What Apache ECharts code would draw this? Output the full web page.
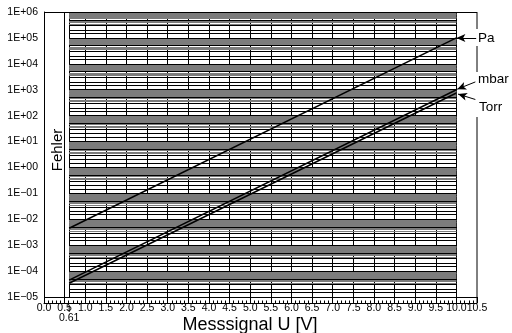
<!DOCTYPE html>
<html>
<head>
<meta charset="utf-8">
<script src="https://cdn.jsdelivr.net/npm/echarts@6/dist/echarts.min.js"></script>
<style>
  html, body { margin: 0; padding: 0; background: #fff; }
  #main { width: 512px; height: 333px; }
</style>
</head>
<body>
<div id="main"></div>
<script>
// Messsignal -> Druck, Endpunkte der Kennlinien
const signalU = [0.61, 10.0];
const paValues = [4.5e-3, 1e5];
const mbarValues = [4.5e-5, 1e3];
const torrValues = [3.4e-5, 7.5e2];

// Raster
const gridVolts = [0.5, 0.61, 1.0, 1.5, 2.0, 2.5, 3.0, 3.5, 4.0, 4.5, 5.0, 5.5,
  6.0, 6.5, 7.0, 7.5, 8.0, 8.5, 9.0, 9.5, 10.0];
const decades = [-5, -4, -3, -2, -1, 0, 1, 2, 3, 4, 5];
const blackMult = [1, 1.5, 2, 3, 5];
const greyMult = [3.5, 4, 4.5, 5.5, 6, 6.5, 7, 7.5, 8, 8.5, 9, 9.5];

const FONT = 'Liberation Sans, Arial, sans-serif';

function expLabel(v) {
  const e = Math.round(Math.log10(v));
  return '1E' + (e < 0 ? '\u2212' : '+') + String(Math.abs(e)).padStart(2, '0');
}

const gridLines = [];
gridVolts.forEach(u => {
  gridLines.push([{ coord: [u, 1e-5] }, { coord: [u, 1e6] }]);
});
decades.forEach(d => {
  greyMult.forEach(k => {
    const v = k * Math.pow(10, d);
    gridLines.push([{ coord: [0.61, v], lineStyle: { color: '#7c7c7c' } },
                    { coord: [10, v] }]);
  });
  blackMult.forEach(k => {
    const v = k * Math.pow(10, d);
    gridLines.push([{ coord: [0.61, v] }, { coord: [10, v] }]);
  });
});

const chart = echarts.init(document.getElementById('main'));

const option = {
  animation: false,
  grid: { left: 44, right: 35, top: 12, bottom: 36 },
  xAxis: {
    type: 'value',
    min: 0,
    max: 10.5,
    interval: 0.5,
    offset: 6,
    axisLine: { lineStyle: { color: '#000', width: 1 } },
    axisTick: { inside: true, length: 6, lineStyle: { color: '#000' } },
    minorTick: { show: true, splitNumber: 5, length: 2.5, lineStyle: { color: '#000' } },
    axisLabel: {
      color: '#000', fontSize: 10.5, fontFamily: FONT, margin: 0,
      formatter: v => v.toFixed(1)
    },
    splitLine: { show: false }
  },
  yAxis: {
    type: 'log',
    min: 1e-5,
    max: 1e6,
    interval: 1,
    axisLine: { show: true, lineStyle: { color: '#000', width: 1 } },
    axisTick: { show: false },
    axisLabel: { color: '#000', fontSize: 10.5, fontFamily: FONT, margin: 6, formatter: expLabel },
    splitLine: { show: false }
  },
  series: [
    {
      name: 'raster',
      type: 'line',
      data: [],
      silent: true,
      z: 1,
      markLine: {
        silent: true,
        symbol: 'none',
        label: { show: false },
        lineStyle: { color: '#000', width: 1, type: 'solid' },
        data: gridLines.concat([
          [{ coord: [0, 1e-5] }, { coord: [10.5, 1e-5] }],
          [{ coord: [0, 1e6] }, { coord: [10.5, 1e6] }]
        ])
      }
    },
    {
      name: 'Pa', type: 'line', z: 5, symbol: 'none',
      lineStyle: { color: '#000', width: 1.5 },
      data: signalU.map((u, i) => [u, paValues[i]]),
      markLine: {
        silent: true, symbol: ['none', 'arrow'], symbolSize: [6, 9],
        label: { show: false },
        lineStyle: { color: '#000', width: 1, type: 'solid' },
        data: [[{ coord: [10.48, 1e5] }, { coord: [10.0, 1e5] }]]
      }
    },
    {
      name: 'mbar', type: 'line', z: 5, symbol: 'none',
      lineStyle: { color: '#000', width: 1.5 },
      data: signalU.map((u, i) => [u, mbarValues[i]]),
      markLine: {
        silent: true, symbol: ['none', 'arrow'], symbolSize: [6, 9],
        label: { show: false },
        lineStyle: { color: '#000', width: 1, type: 'solid' },
        data: [[{ coord: [10.46, 2.0e3] }, { coord: [10.02, 1.05e3] }]]
      }
    },
    {
      name: 'Torr', type: 'line', z: 5, symbol: 'none',
      lineStyle: { color: '#000', width: 1.5 },
      data: signalU.map((u, i) => [u, torrValues[i]]),
      markLine: {
        silent: true, symbol: ['none', 'arrow'], symbolSize: [6, 9],
        label: { show: false },
        lineStyle: { color: '#000', width: 1, type: 'solid' },
        data: [[{ coord: [10.46, 4.2e2] }, { coord: [10.04, 6.8e2] }]]
      }
    }
  ]
};

chart.setOption(option);

// Beschriftungen und Rahmen
const px = (u, p) => chart.convertToPixel({ xAxisIndex: 0, yAxisIndex: 0 }, [u, p]);
const xR = px(10.5, 1)[0];
const yTop = px(0, 1e6)[1];
const yBot = px(0, 1e-5)[1] + 6;
const x061 = px(0.61, 1)[0];
const xFehler = px(0.33, 1)[0];
const txt = { fill: '#000', fontFamily: FONT };

chart.setOption({
  graphic: [
    { type: 'line', shape: { x1: xR, y1: yTop, x2: xR, y2: 29 }, style: { stroke: '#000', lineWidth: 1 } },
    { type: 'line', shape: { x1: xR, y1: 46, x2: xR, y2: 72 }, style: { stroke: '#000', lineWidth: 1 } },
    { type: 'line', shape: { x1: xR, y1: 117, x2: xR, y2: yBot }, style: { stroke: '#000', lineWidth: 1 } },
    { type: 'text', x: xR + 1, y: 38, style: Object.assign({ text: 'Pa', fontSize: 13.5, verticalAlign: 'middle' }, txt) },
    { type: 'text', x: xR + 1, y: 79, style: Object.assign({ text: 'mbar', fontSize: 13.5, verticalAlign: 'middle' }, txt) },
    { type: 'text', x: xR + 2, y: 107, style: Object.assign({ text: 'Torr', fontSize: 13.5, verticalAlign: 'middle' }, txt) },
    { type: 'text', x: xFehler, y: 150, rotation: Math.PI / 2,
      style: Object.assign({ text: 'Fehler', fontSize: 15, align: 'center', verticalAlign: 'middle' }, txt) },
    { type: 'polyline', shape: { points: [[x061 - 2, yBot], [x061, yBot + 2], [x061, yBot + 9]] },
      style: { stroke: '#000', lineWidth: 1, fill: null } },
    { type: 'text', x: x061, y: 318, style: Object.assign({ text: '0.61', fontSize: 10.5, align: 'center', verticalAlign: 'middle' }, txt) },
    { type: 'text', x: 250, y: 325, style: Object.assign({ text: 'Messsignal U [V]', fontSize: 18, align: 'center', verticalAlign: 'middle' }, txt) }
  ]
});
</script>
</body>
</html>
